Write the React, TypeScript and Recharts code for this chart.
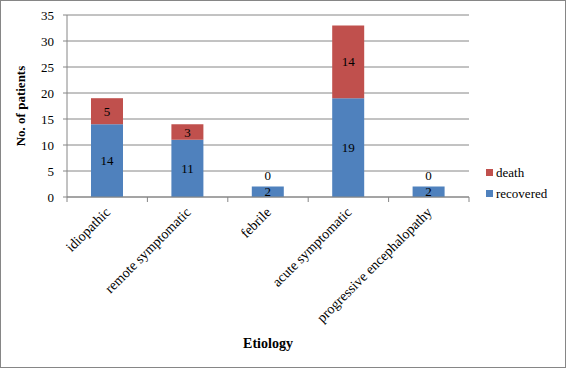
import * as React from 'react';
import {
    BarChart,
    Bar,
    XAxis,
    YAxis,
    CartesianGrid,
    LabelList
} from 'recharts';

const etiologies = ['idiopathic', 'remote symptomatic', 'febrile', 'acute symptomatic', 'progressive encephalopathy'];
const recovered = [14, 11, 2, 19, 2];
const death = [5, 3, 0, 14, 0];
const yTicks = [0, 5, 10, 15, 20, 25, 30, 35];

const data = etiologies.map((name, i) => ({
    name,
    recovered: recovered[i],
    death: death[i]
}));

const W = 566;
const H = 368;
const MARGIN = { top: 15, right: 97, left: 0, bottom: 0 };
const Y_WIDTH = 67;
const PLOT_W = W - MARGIN.left - MARGIN.right - Y_WIDTH;
const FONT = '"Liberation Serif", "Times New Roman", serif';
const GRID = '#868686';
const BLUE = '#4F81BD';
const RED = '#C0504D';

const CategoryTick = (props: any) => {
    const { x, y, payload, index } = props;
    const half = PLOT_W / etiologies.length / 2;
    const tx = x + 4;
    const ty = y + 8;
    return (
        <g>
            <line x1={x - half} y1={y - 8} x2={x - half} y2={y - 3} stroke={GRID} />
            {index === etiologies.length - 1 && (
                <line x1={x + half} y1={y - 8} x2={x + half} y2={y - 3} stroke={GRID} />
            )}
            <text
                x={tx}
                y={ty}
                textAnchor="end"
                fontSize={14}
                fontFamily={FONT}
                fill="#000"
                transform={`rotate(-45, ${tx}, ${ty})`}
            >
                {payload.value}
            </text>
        </g>
    );
};

// recovered label in the middle of the blue part; a zero death count sits above the bar
const RecoveredLabel = (props: any) => {
    const { x, y, width, height, value, index } = props;
    return (
        <g fontSize={13} fontFamily={FONT} fill="#000">
            <text x={x + width / 2} y={y + height / 2} textAnchor="middle" dominantBaseline="central">
                {value}
            </text>
            {death[index] === 0 && (
                <text x={x + width / 2} y={y - 11} textAnchor="middle" dominantBaseline="central">
                    0
                </text>
            )}
        </g>
    );
};

const DeathLabel = (props: any) => {
    const { x, y, width, height, value } = props;
    if (!value) return null;
    return (
        <text x={x + width / 2} y={y + height / 2} textAnchor="middle" dominantBaseline="central"
            fontSize={13} fontFamily={FONT} fill="#000">
            {value}
        </text>
    );
};

const LegendBox = () => (
    <div style={{
        position: 'absolute', left: 486, top: 162,
        fontFamily: FONT, fontSize: 13, color: '#000', lineHeight: '21px'
    }}>
        {[{ c: RED, t: 'death' }, { c: BLUE, t: 'recovered' }].map((it) => (
            <div key={it.t} style={{ display: 'flex', alignItems: 'center' }}>
                <span style={{ display: 'inline-block', width: 7, height: 7, background: it.c, marginRight: 3 }} />
                {it.t}
            </div>
        ))}
    </div>
);

export default function App() {
    return (
        <div style={{ position: 'absolute', left: 0, top: 0, width: W, height: H, background: '#fff' }}>
            <BarChart width={W} height={H} data={data} margin={MARGIN} barSize={32}>
                <CartesianGrid vertical={false} stroke={GRID} />
                <XAxis
                    dataKey="name"
                    interval={0}
                    height={H - 197}
                    axisLine={{ stroke: GRID }}
                    tickLine={false}
                    tick={<CategoryTick />}
                    label={{
                        value: 'Etiology',
                        position: 'insideBottom',
                        offset: 20,
                        style: { fontFamily: FONT, fontSize: 14, fontWeight: 'bold', fill: '#000' }
                    }}
                />
                <YAxis
                    width={Y_WIDTH}
                    domain={[0, 35]}
                    ticks={yTicks}
                    interval={0}
                    axisLine={{ stroke: GRID }}
                    tickLine={{ stroke: GRID }}
                    tickSize={4}
                    tickMargin={9}
                    tick={{ fontFamily: FONT, fontSize: 13, fill: '#000' }}
                    label={{
                        value: 'No. of patients',
                        angle: -90,
                        position: 'insideLeft',
                        offset: 20,
                        style: { fontFamily: FONT, fontSize: 13, fontWeight: 'bold', fill: '#000', textAnchor: 'middle' }
                    }}
                />
                <Bar dataKey="recovered" stackId="a" fill={BLUE} isAnimationActive={false}>
                    <LabelList dataKey="recovered" content={<RecoveredLabel />} />
                </Bar>
                <Bar dataKey="death" stackId="a" fill={RED} isAnimationActive={false}>
                    <LabelList dataKey="death" content={<DeathLabel />} />
                </Bar>
            </BarChart>
            <LegendBox />
            <div style={{
                position: 'absolute', left: 0, top: 0, width: W, height: H,
                boxSizing: 'border-box', border: `1px solid ${GRID}`, pointerEvents: 'none'
            }} />
        </div>
    );
}
